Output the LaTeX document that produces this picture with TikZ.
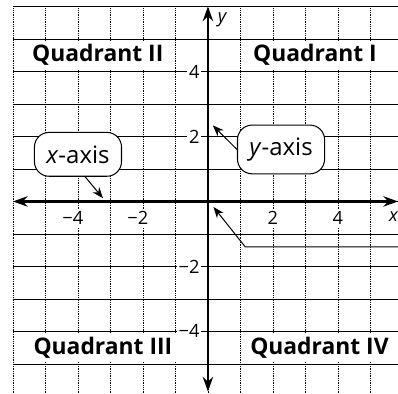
\documentclass[tikz,border=0pt]{standalone}
\usepackage{fontspec}
\setmainfont{Open Sans}
\usetikzlibrary{arrows.meta,positioning,calc}

\begin{document}
\begin{tikzpicture}[>=Stealth]
  \tikzset{gridv/.style={densely dotted, line width=0.55pt},gridh/.style={line width=0.6pt},quad/.style={font=\fontsize{20}{22}\selectfont\bfseries, fill=white, inner xsep=3pt, inner ysep=0pt, minimum height=9mm, anchor=west},tick/.style={font=\fontsize{16}{18}\selectfont, fill=white, inner sep=1.5pt},callout/.style={draw, line width=0.9pt, fill=white, rounded corners=4.5mm, font=\fontsize{21}{23}\selectfont, minimum width=26.8mm, minimum height=13.5mm, inner sep=0pt},axis/.style={line width=2pt, {Stealth[length=4.5mm,width=3.2mm]}-{Stealth[length=4.5mm,width=3.2mm]}},lead/.style={line width=0.9pt, -{Stealth[length=3.4mm,width=2.6mm]}}}
  \useasboundingbox (-6.4,-5.92) rectangle (5.85,6.2);
  \foreach \i in {-6,...,5} \draw[gridv] (\i,6) -- (\i,-6);
  \node[quad] (q2) at (-5.52,4.5) {Quadrant II};
  \node[quad] (q1) at (1.28,4.5) {Quadrant I};
  \node[quad] (q3) at (-5.48,-4.5) {Quadrant III};
  \node[quad] (q4) at (1.19,-4.5) {Quadrant IV};
  \foreach \j in {-6,...,6} \draw[gridh] (-6,\j) -- (5.85,\j);
  \coordinate (xl) at (-6,0);
  \coordinate (xr) at (5.85,0);
  \coordinate (yt) at (0,6);
  \coordinate (yb) at (0,-5.85);
  \draw[axis] (xl) -- (xr);
  \draw[axis] (yb) -- (yt);
  \foreach \t in {-4,-2} \node[tick] (xt\t) at (\t-0.16,-0.52) {−\the\numexpr-\t\relax};
  \foreach \t in {2,4} \node[tick] (xt\t) at (\t,-0.52) {\t};
  \foreach \t in {2,4} \node[tick, anchor=east] (yt\t) at (-0.2,\t) {\t};
  \foreach \t in {-2,-4} \node[tick, anchor=east] (yt\t) at (-0.2,\t) {−\the\numexpr-\t\relax};
  \node[tick, fill=none] (xlab) at (5.72,-0.48) {\textit{x}};
  \node[tick, fill=none] (ylab) at (0.45,5.6) {\textit{y}};
  \node[callout] (xax) at (-4.0,1.45) {\textit{x}-axis};
  \node[callout, minimum height=15mm] (yax) at (2.25,1.6) {\textit{y}-axis};
  \coordinate (xtip) at (-3.23,0.1);
  \coordinate (ytip) at (0.15,2.34);
  \coordinate (oend) at (5.85,-1.4);
  \coordinate (obend) at (1.15,-1.4);
  \coordinate (otip) at (0.17,-0.17);
  \draw[lead] ([xshift=2.2mm]xax.south) -- (xtip);
  \draw[lead] (yax.west) -- (ytip);
  \draw[lead] (oend) -- (obend) -- (otip);
\end{tikzpicture}
\end{document}
